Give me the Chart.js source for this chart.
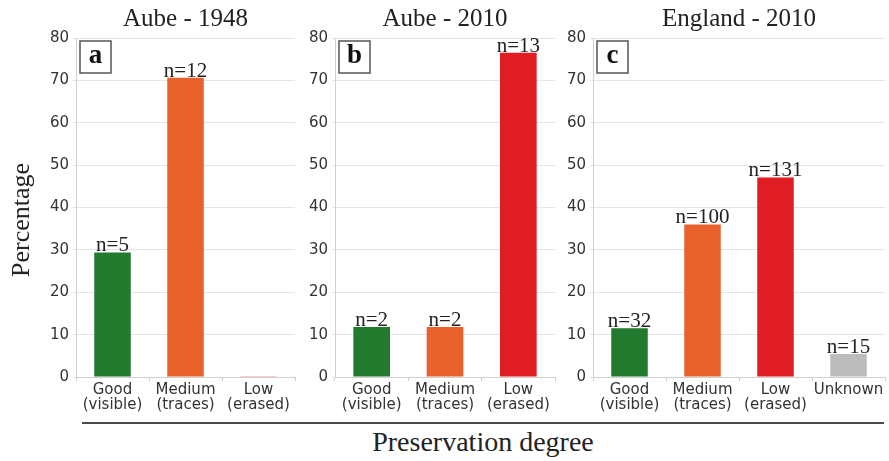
<!DOCTYPE html>
<html>
<head>
<meta charset="utf-8">
<script src="https://cdn.jsdelivr.net/npm/chart.js@4/dist/chart.umd.min.js"></script>
<style>
  body { margin: 0; background: #fff; }
  #wrap { position: relative; width: 889px; height: 461px; overflow: hidden; }
  canvas { position: absolute; top: 0; }
  .lbl { position: absolute; font-family: "Liberation Serif", serif; color: #222; white-space: nowrap; }
  #ylab { left: 21px; top: 220px; font-size: 26px; transform: translate(-50%, -50%) rotate(-90deg); }
  #xlab { left: 483px; top: 442px; font-size: 28px; transform: translate(-50%, -50%); }
  #rule { position: absolute; left: 82px; top: 422px; width: 802px; height: 2px; background: #4a4a4a; }
</style>
</head>
<body>
<div id="wrap">
  <canvas id="ca"></canvas>
  <canvas id="cb"></canvas>
  <canvas id="cc"></canvas>
  <div id="ylab" class="lbl">Percentage</div>
  <div id="rule"></div>
  <div id="xlab" class="lbl">Preservation degree</div>
</div>
<script>
// chart data
const panelTitles = ['Aube - 1948', 'Aube - 2010', 'England - 2010'];
const panelLetters = ['a', 'b', 'c'];
const aubeCategories = [['Good', '(visible)'], ['Medium', '(traces)'], ['Low', '(erased)']];
const englandCategories = [['Good', '(visible)'], ['Medium', '(traces)'], ['Low', '(erased)'], 'Unknown'];

const aube1948Values = [29.4, 70.6, 0];
const aube1948Counts = [5, 12, null];
const aube2010Values = [11.8, 11.8, 76.5];
const aube2010Counts = [2, 2, 13];
const england2010Values = [11.5, 36.0, 47.1, 5.4];
const england2010Counts = [32, 100, 131, 15];

const yMin = 0, yMax = 80, yStep = 10;

const GREEN = '#217a2e', ORANGE = '#e8612b', RED = '#e11d24', GREY = '#bcbcbc';

// draws panel title, letter box and n= labels
const panelDecor = {
  id: 'panelDecor',
  afterDatasetsDraw(chart, args, opts) {
    const ctx = chart.ctx;
    const area = chart.chartArea;
    ctx.save();
    // title
    ctx.fillStyle = '#222';
    ctx.font = '25px "Liberation Serif", serif';
    ctx.textAlign = 'center';
    ctx.textBaseline = 'alphabetic';
    ctx.fillText(opts.title, (area.left + area.right) / 2, 26);
    // letter box
    const bx = area.left + 4, by = area.top + 3;
    ctx.fillStyle = '#fff';
    ctx.fillRect(bx, by, 31, 32);
    ctx.strokeStyle = '#555';
    ctx.lineWidth = 1.5;
    ctx.strokeRect(bx, by, 31, 32);
    ctx.fillStyle = '#111';
    ctx.font = 'bold 27px "Liberation Serif", serif';
    ctx.textBaseline = 'middle';
    ctx.fillText(opts.letter, bx + 15.5, by + 15);
    // counts above bars
    ctx.font = '21px "Liberation Serif", serif';
    ctx.fillStyle = '#222';
    ctx.textBaseline = 'alphabetic';
    const meta = chart.getDatasetMeta(0);
    meta.data.forEach((bar, i) => {
      const n = opts.counts[i];
      if (n == null) return;
      ctx.fillText('n=' + n, bar.x, bar.y - 1);
    });
    ctx.restore();
  }
};

function makePanel(id, left, width, axisWidth, rightPad, labels, values, colors, counts, idx) {
  const canvas = document.getElementById(id);
  canvas.style.left = left + 'px';
  canvas.width = width;
  canvas.height = 420;
  canvas.style.width = width + 'px';
  canvas.style.height = '420px';
  const n = labels.length;
  return new Chart(canvas, {
    type: 'bar',
    data: {
      labels: labels,
      datasets: [{
        data: values,
        backgroundColor: colors,
        barPercentage: 0.5,
        categoryPercentage: 1,
        minBarLength: 1
      }]
    },
    options: {
      responsive: false,
      animation: false,
      layout: { padding: { top: 38, right: rightPad, left: 0, bottom: 0 } },
      plugins: {
        legend: { display: false },
        tooltip: { enabled: false },
        panelDecor: { title: panelTitles[idx], letter: panelLetters[idx], counts: counts }
      },
      scales: {
        x: {
          afterFit: s => { s.height = 43; },
          grid: {
            offset: true,
            color: c => c.index === n ? '#dcdcdc' : 'rgba(0,0,0,0)',
            tickColor: '#cfcfcf',
            tickLength: 4
          },
          border: { color: '#cfcfcf' },
          ticks: {
            color: '#333',
            font: { family: '"DejaVu Sans", sans-serif', size: 15, lineHeight: 1.0 },
            padding: 2,
            maxRotation: 0,
            autoSkip: false
          }
        },
        y: {
          min: yMin,
          max: yMax,
          afterFit: s => { s.width = axisWidth; },
          grid: { color: '#e4e4e4', tickColor: '#e4e4e4', tickLength: 3 },
          border: { color: '#cfcfcf' },
          ticks: {
            stepSize: yStep,
            color: '#333',
            padding: 4,
            font: { family: '"DejaVu Sans", sans-serif', size: 15 }
          }
        }
      }
    },
    plugins: [panelDecor]
  });
}

makePanel('ca', 0, 300, 76, 5, aubeCategories, aube1948Values, [GREEN, ORANGE, '#f2a0a0'], aube1948Counts, 0);
makePanel('cb', 300, 260, 35, 5, aubeCategories, aube2010Values, [GREEN, ORANGE, RED], aube2010Counts, 1);
makePanel('cc', 555, 334, 38, 4, englandCategories, england2010Values, [GREEN, ORANGE, RED, GREY], england2010Counts, 2);
</script>
</body>
</html>
